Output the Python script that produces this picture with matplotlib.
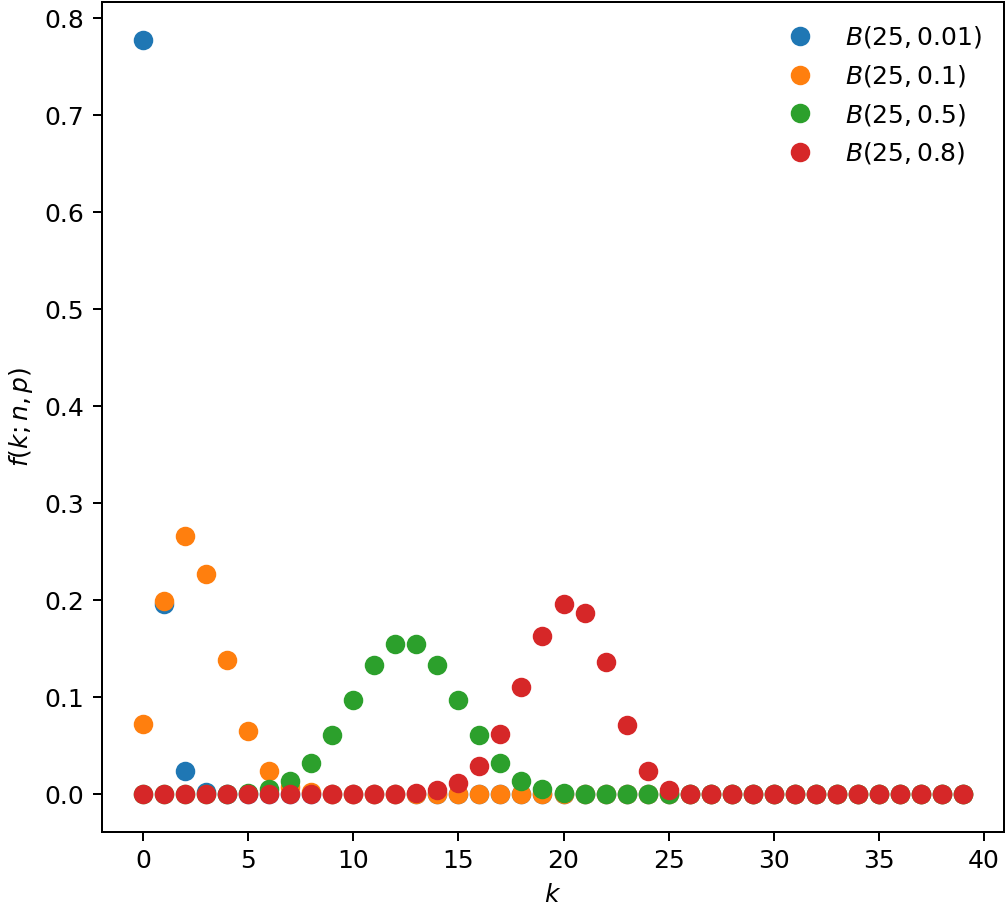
import numpy as np
import matplotlib.pyplot as plt

k = np.arange(40)

# probabilities per k (k = 0..39), zeros beyond the visible tail
p_001 = [0.778, 0.196, 0.024, 0.002, 0.0001] + [0.0] * 35
p_01 = [0.072, 0.199, 0.266, 0.227, 0.138, 0.065, 0.024, 0.007, 0.002,
        0.0004, 0.0001] + [0.0] * 29
p_05 = [0.0] * 3 + [0.0001, 0.0004, 0.0016, 0.0053, 0.014, 0.032, 0.061,
                    0.097, 0.133, 0.155, 0.155, 0.133, 0.097, 0.061, 0.032,
                    0.014, 0.0053, 0.0016, 0.0004, 0.0001] + [0.0] * 17
p_08 = [0.0] * 11 + [0.0001, 0.0003, 0.0012, 0.004, 0.012, 0.029, 0.062,
                     0.111, 0.163, 0.196, 0.187, 0.136, 0.071, 0.024,
                     0.004] + [0.0] * 14

series = [(p_001, "$B(25, 0.01)$"), (p_01, "$B(25, 0.1)$"),
          (p_05, "$B(25, 0.5)$"), (p_08, "$B(25, 0.8)$")]

fig = plt.figure(figsize=(1006 / 180, 904 / 180), dpi=180)
ax = fig.add_axes([102 / 1006, 72 / 904, 902 / 1006, 830 / 904])

for vals, lab in series:
    ax.plot(k, vals, "o", markersize=6.8, label=lab)

ax.set_xlabel("$k$")
ax.set_ylabel("$f(k;n,p)$")
ax.legend(frameon=False, loc="upper right")

plt.savefig("out.png", dpi=180)
